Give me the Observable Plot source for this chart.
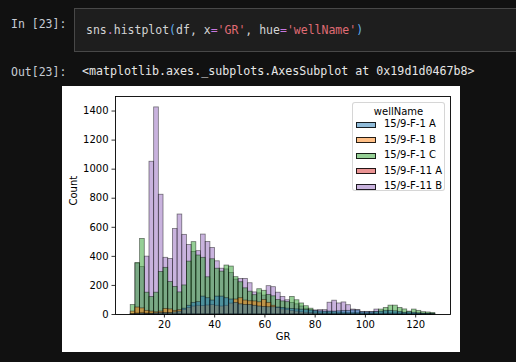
<!DOCTYPE html>
<html><head><meta charset="utf-8">
<script src="https://cdn.jsdelivr.net/npm/d3@7"></script>
<script src="https://cdn.jsdelivr.net/npm/@observablehq/plot@0.6"></script>
<style>
html,body{margin:0;padding:0;background:#111111;}
#page{position:relative;width:516px;height:362px;overflow:hidden;background:#111111;}
#chrome{position:absolute;left:0;top:0;}
#fig{position:absolute;left:62px;top:86px;width:398px;height:266px;background:#ffffff;}
#legend{position:absolute;left:352px;top:102px;width:93px;height:89px;border:1px solid rgba(204,204,204,0.8);border-radius:3px;background:rgba(255,255,255,0.8);font-family:"DejaVu Sans";font-size:10px;color:#000;box-sizing:border-box;}
#legend .t{position:absolute;left:0;width:100%;text-align:center;line-height:12px;}
#legend .p{position:absolute;left:3px;width:20px;height:6px;box-sizing:border-box;}
#legend .l{position:absolute;left:31px;line-height:12px;white-space:nowrap;}
</style></head><body>
<div id="page">
<svg id="chrome" width="516" height="362" xmlns="http://www.w3.org/2000/svg">
  <rect x="74.5" y="8.5" width="460" height="43" fill="#1e1e1e" stroke="#484848"/>
  <g font-family="DejaVu Sans Mono" font-size="11.5" xml:space="preserve">
    <text x="11" y="28" fill="#c6ccd4">In [23]:</text>
    <text x="86" y="34"><tspan fill="#d4d4d4">sns</tspan><tspan fill="#c678dd">.</tspan><tspan fill="#d4d4d4">histplot</tspan><tspan fill="#61afef">(</tspan><tspan fill="#d4d4d4">df, x</tspan><tspan fill="#c678dd">=</tspan><tspan fill="#e06c75">'GR'</tspan><tspan fill="#d4d4d4">, hue</tspan><tspan fill="#c678dd">=</tspan><tspan fill="#e06c75">'wellName'</tspan><tspan fill="#61afef">)</tspan></text>
    <text x="11" y="76" fill="#c6ccd4">Out[23]:</text>
    <text x="82" y="75" fill="#e6e6e6" font-size="11.65">&lt;matplotlib.axes._subplots.AxesSubplot at 0x19d1d0467b8&gt;</text>
  </g>
</svg>
<div id="fig"></div>
<div id="legend"></div>
</div>
<script>
const wellNames = ["15/9-F-1 A", "15/9-F-1 B", "15/9-F-1 C", "15/9-F-11 A", "15/9-F-11 B"];
const wellColors = ["#1f77b4", "#ff7f0e", "#2ca02c", "#d62728", "#9467bd"];
const xTicks = [20, 40, 60, 80, 100, 120];
const yTicks = [0, 200, 400, 600, 800, 1000, 1200, 1400];
// histogram bins (GR units): first edge and common width, 65 bins
const binStart = 6.6;
const binWidth = 1.865;

const countF1A = [2, 5, 8, 5, 5, 8, 10, 10, 10, 15, 20, 40, 60, 80, 85, 123, 112, 96, 123, 123, 112, 103, 80, 70, 66, 66, 60, 55, 52, 50, 50, 48, 45, 40, 38, 35, 33, 30, 28, 25, 22, 20, 20, 20, 22, 25, 25, 28, 28, 15, 15, 15, 18, 20, 25, 25, 22, 18, 12, 15, 12, 8, 6, 5, 3];
const countF1B = [20, 48, 42, 25, 20, 15, 20, 38, 35, 25, 30, 32, 45, 55, 60, 58, 62, 65, 60, 55, 60, 75, 103, 112, 96, 91, 90, 84, 100, 80, 60, 45, 35, 30, 25, 20, 15, 12, 10, 8, 6, 5, 5, 5, 4, 4, 3, 3, 3, 2, 2, 2, 2, 2, 2, 2, 2, 1, 1, 1, 1, 1, 1, 0, 0];
const countF1C = [65, 355, 520, 150, 120, 150, 292, 321, 223, 190, 152, 200, 364, 498, 406, 390, 256, 380, 315, 295, 337, 330, 257, 222, 180, 157, 133, 174, 163, 135, 125, 100, 90, 85, 121, 98, 76, 57, 40, 20, 15, 15, 15, 15, 12, 12, 10, 10, 10, 8, 8, 8, 15, 34, 45, 61, 61, 45, 35, 20, 34, 25, 16, 14, 11];
const countF11A = [3, 10, 12, 8, 6, 5, 6, 8, 8, 6, 6, 5, 5, 4, 4, 3, 3, 3, 2, 2, 2, 2, 2, 1, 1, 1, 1, 1, 1, 1, 0, 0, 0, 0, 0, 0, 0, 0, 0, 0, 0, 0, 0, 0, 0, 0, 0, 0, 0, 0, 0, 0, 0, 0, 0, 0, 0, 0, 0, 0, 0, 0, 0, 0, 0];
const countF11B = [0, 350, 326, 398, 1051, 1425, 824, 390, 382, 588, 688, 548, 478, 430, 436, 550, 499, 458, 366, 315, 310, 285, 240, 245, 245, 215, 152, 145, 130, 195, 188, 150, 121, 98, 80, 70, 55, 40, 28, 28, 30, 30, 81, 95, 76, 83, 64, 34, 30, 18, 18, 18, 34, 15, 15, 12, 10, 10, 8, 8, 6, 5, 4, 3, 2];

const seriesCounts = [countF1A, countF1B, countF1C, countF11A, countF11B];

// seaborn layers hue levels in reverse: last level at the bottom, first on top
const rows = [];
for (let s = wellNames.length - 1; s >= 0; s--) {
  seriesCounts[s].forEach((c, i) => {
    if (c > 0) rows.push({well: wellNames[s], x1: binStart + i * binWidth, x2: binStart + (i + 1) * binWidth, count: c});
  });
}

const chart = Plot.plot({
  width: 398,
  height: 266,
  marginLeft: 53,
  marginRight: 10,
  marginTop: 10,
  marginBottom: 38,
  style: {fontFamily: "DejaVu Sans", fontSize: "10px", background: "white", color: "black", overflow: "visible"},
  x: {domain: [0.54, 133.86]},
  y: {domain: [0, 1500]},
  color: {domain: wellNames, range: wellColors},
  marks: [
    Plot.rect(rows, {x1: "x1", x2: "x2", y1: 0, y2: "count", fill: "well", fillOpacity: 0.5, stroke: "black", strokeOpacity: 0.5, strokeWidth: 0.8, inset: 0}),
    Plot.frame({stroke: "black", strokeWidth: 0.9}),
    Plot.axisX({ticks: xTicks, tickFormat: d => String(d), tickSize: 3.5, tickPadding: 3, label: null, strokeWidth: 0.8}),
    Plot.axisY({ticks: yTicks, tickFormat: d => String(d), tickSize: 3.5, tickPadding: 3.5, label: null, strokeWidth: 0.8}),
    Plot.text(["GR"], {frameAnchor: "bottom", dy: 25}),
    Plot.text(["Count"], {frameAnchor: "left", dx: -41.5, rotate: -90})
  ]
});
document.getElementById("fig").appendChild(chart);

// legend
const lg = document.getElementById("legend");
const title = document.createElement("div");
title.className = "t"; title.style.top = "2.5px"; title.textContent = "wellName";
lg.appendChild(title);
const rowCenters = [21.5, 37, 52.5, 68, 83.5];
wellNames.forEach((name, i) => {
  const p = document.createElement("div");
  p.className = "p";
  p.style.top = (rowCenters[i] - 3) + "px";
  p.style.background = d3.color(wellColors[i]).copy({opacity: 0.5}).formatRgb();
  p.style.border = "1px solid rgba(0,0,0,0.85)";
  lg.appendChild(p);
  const l = document.createElement("div");
  l.className = "l";
  l.style.top = (rowCenters[i] - 6.5) + "px";
  l.textContent = name;
  lg.appendChild(l);
});
</script>
</body></html>
